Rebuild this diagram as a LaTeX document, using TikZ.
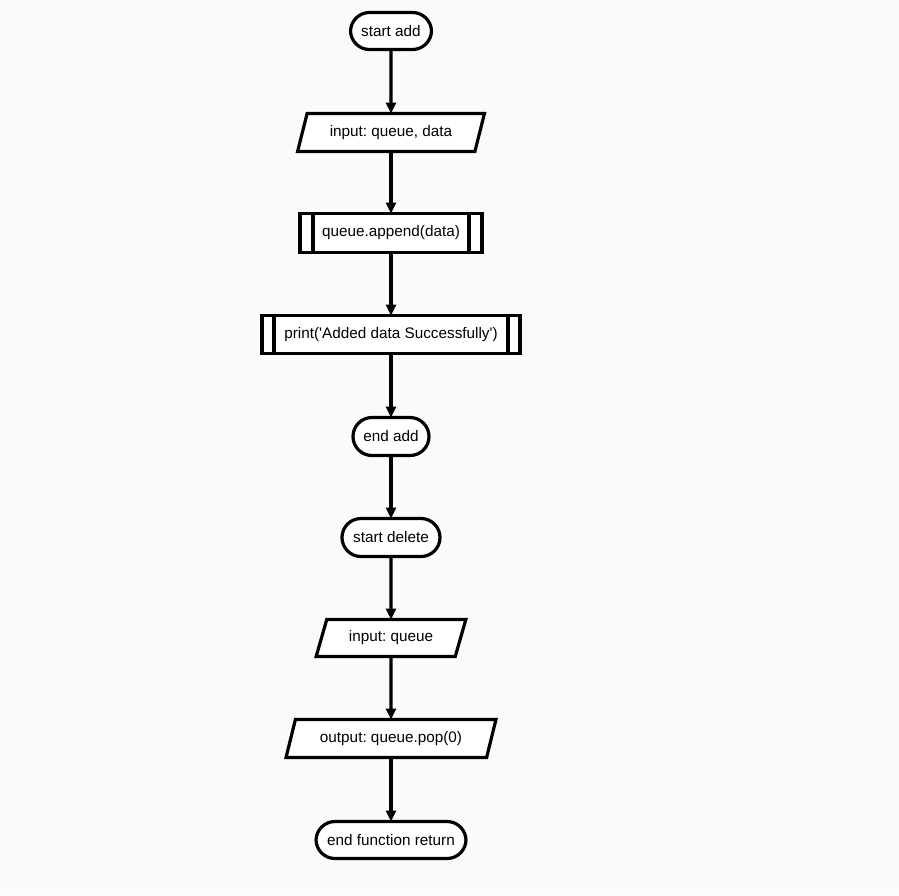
\documentclass[tikz,border=0pt]{standalone}
\usepackage{fontspec}
\setmainfont{Liberation Sans}
\frenchspacing
\usetikzlibrary{shapes.geometric,arrows.meta}
\definecolor{bgcol}{RGB}{250,250,250}
\tikzset{
  base/.style={draw=black, line width=3.2pt, fill=white, font=\fontsize{15.3pt}{17pt}\selectfont, inner sep=0pt, outer sep=0pt},
  term/.style={base, rectangle, rounded corners=19pt},
  io/.style={base, trapezium, trapezium left angle=64, trapezium right angle=116, trapezium stretches=true},
  proc/.style={base, rectangle},
  flow/.style={line width=3.2pt, -{Triangle[length=11pt,width=10pt]}},
  inner/.style={line width=3.2pt}
}
\begin{document}
\begin{tikzpicture}[x=1pt,y=-1pt]
\useasboundingbox (0,0) rectangle (899,895);
\fill[bgcol] (0,0) rectangle (899,895);
\node[term, minimum width=81pt, minimum height=37pt] (s1) at (391,31) {start add};
\node[io, minimum width=187pt, minimum height=38pt] (i1) at (391,132.5) {input: queue, data};
\node[proc, minimum width=182pt, minimum height=39pt] (p1) at (391,233) {queue.append(data)};
\node[proc, minimum width=258pt, minimum height=38pt] (p2) at (391,334.5) {print(\textquotesingle Added data Successfully\textquotesingle)};
\node[term, minimum width=76pt, minimum height=38pt] (e1) at (391,436.5) {end add};
\node[term, minimum width=98pt, minimum height=38pt] (s2) at (391,537.5) {start delete};
\node[io, minimum width=151pt, minimum height=37pt] (i2) at (391,638) {input: queue};
\node[io, minimum width=210pt, minimum height=38pt] (o2) at (391,738.5) {output: queue.pop(0)};
\node[term, minimum width=150pt, minimum height=37pt] (e2) at (391,840) {end function return};
\foreach \n/\d in {p1/13, p2/12} {
  \draw[inner] ([xshift=\d pt]\n.north west) -- ([xshift=\d pt]\n.south west);
  \draw[inner] ([xshift=-\d pt]\n.north east) -- ([xshift=-\d pt]\n.south east);
}
\draw[flow] (s1) -- (i1);
\draw[flow] (i1) -- (p1);
\draw[flow] (p1) -- (p2);
\draw[flow] (p2) -- (e1);
\draw[flow] (e1) -- (s2);
\draw[flow] (s2) -- (i2);
\draw[flow] (i2) -- (o2);
\draw[flow] (o2) -- (e2);
\end{tikzpicture}
\end{document}
